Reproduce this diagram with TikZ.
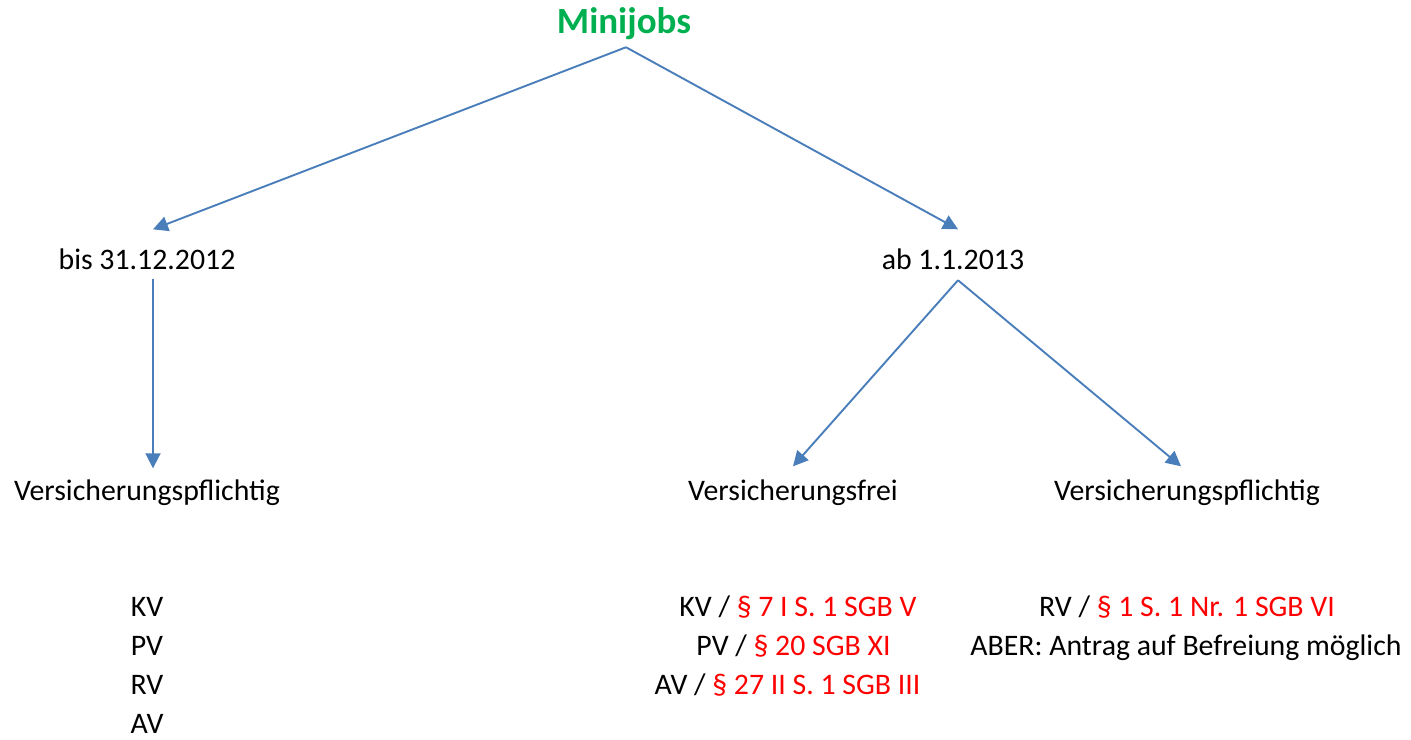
\documentclass[tikz,border=0pt]{standalone}
\usepackage{fontspec}
\setmainfont{Carlito}
\usetikzlibrary{arrows.meta}
\definecolor{arrblue}{HTML}{4A7EBB}
\definecolor{mjgreen}{HTML}{00B050}
\definecolor{lawred}{HTML}{FF0000}
\begin{document}
\begin{tikzpicture}[x=1pt,y=-1pt,
  txt/.style={anchor=base,inner sep=0pt,outer sep=0pt,font=\fontsize{29.8}{36}\selectfont},
  ttl/.style={anchor=base,inner sep=0pt,outer sep=0pt,font=\fontsize{37}{44}\selectfont\bfseries,text=mjgreen},
  arr/.style={draw=arrblue,line width=1.9pt,-{Triangle[length=15pt,width=15pt]}}]
\useasboundingbox (0,0) rectangle (1411,739);
\node[ttl] (mini) at (624,33) {Minijobs};
\node[txt] (bis) at (147,269) {bis 31.12.2012};
\node[txt] (ab) at (953,269) {ab 1.1.2013};
\node[txt] (vp1) at (147,500) {Versicherungspflichtig};
\node[txt] (vf) at (793,500) {Versicherungsfrei};
\node[txt] (vp2) at (1187,500) {Versicherungspflichtig};
% left list
\node[txt] (l1) at (147,616) {KV};
\node[txt] (l2) at (147,655.3) {PV};
\node[txt] (l3) at (147,694.6) {RV};
\node[txt] (l4) at (147,733.9) {AV};
% middle list
\node[txt] (m1) at (798,616) {KV / \textcolor{lawred}{§ 7 I S. 1 SGB V}};
\node[txt] (m2) at (793.5,655.3) {PV / \textcolor{lawred}{§ 20 SGB XI}};
\node[txt] (m3) at (787.5,694.6) {AV / \textcolor{lawred}{§ 27 II S. 1 SGB III}};
% right list
\node[txt] (r1) at (1187,616) {RV / \textcolor{lawred}{§ 1 S. 1 Nr. 1 SGB VI}};
\node[txt] (r2) at (1186,655.3) {ABER: Antrag auf Befreiung möglich};
% connectors
\draw[arr] ([xshift=2pt,yshift=-8pt]mini.south) -- ([xshift=6pt,yshift=19pt]bis.north);
\draw[arr] ([xshift=2pt,yshift=-8pt]mini.south) -- ([xshift=5pt,yshift=19pt]ab.north);
\draw[arr] ([xshift=6pt,yshift=-10pt]bis.south) -- ([xshift=6pt,yshift=11pt]vp1.north);
\draw[arr] ([xshift=5pt,yshift=-11pt]ab.south) -- ([yshift=13pt]vf.north);
\draw[arr] ([xshift=5pt,yshift=-11pt]ab.south) -- ([xshift=-6pt,yshift=13pt]vp2.north);
\end{tikzpicture}
\end{document}
